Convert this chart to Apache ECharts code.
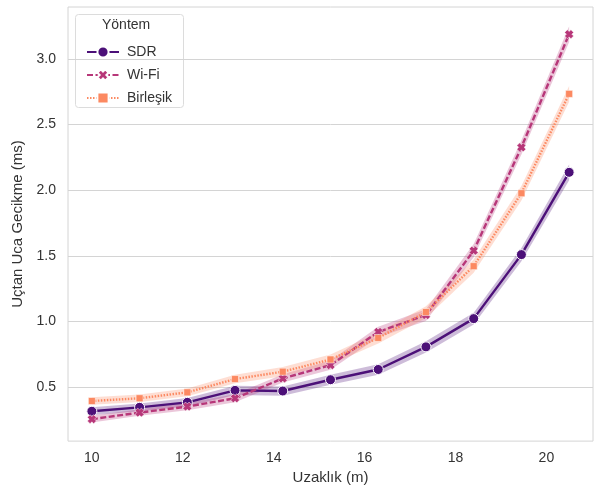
<!DOCTYPE html>
<html>
<head>
<meta charset="utf-8">
<script src="https://cdn.jsdelivr.net/npm/echarts@6/dist/echarts.min.js"></script>
<style>
  html, body { margin: 0; padding: 0; background: #fff; }
  #chart { width: 597px; height: 490px; }
</style>
</head>
<body>
<div id="chart"></div>
<script>
// Distance (m) at which each latency was measured
const distance = [10, 11.05, 12.1, 13.15, 14.2, 15.25, 16.3, 17.35, 18.4, 19.45, 20.5];

// Mean end-to-end latency (ms) per method
const sdr      = [0.318, 0.348, 0.386, 0.477, 0.472, 0.558, 0.636, 0.808, 1.023, 1.510, 2.136];
const wifi     = [0.258, 0.308, 0.354, 0.417, 0.568, 0.669, 0.922, 1.050, 1.540, 2.326, 3.187];
const combined = [0.396, 0.417, 0.462, 0.563, 0.619, 0.712, 0.876, 1.073, 1.422, 1.977, 2.733];

// Half-width of the confidence band (ms) per method
const sdrCi      = [0.030, 0.030, 0.032, 0.035, 0.035, 0.038, 0.040, 0.042, 0.045, 0.050, 0.060];
const wifiCi     = [0.025, 0.025, 0.028, 0.030, 0.032, 0.035, 0.040, 0.045, 0.050, 0.055, 0.060];
const combinedCi = [0.028, 0.028, 0.030, 0.032, 0.035, 0.038, 0.042, 0.045, 0.050, 0.055, 0.060];

// Axis tick labels
const xTicks = [10, 12, 14, 16, 18, 20];
const yTicks = [0.5, 1.0, 1.5, 2.0, 2.5, 3.0];

const names = ['SDR', 'Wi-Fi', 'Birleşik'];
const colors = ['#4c1078', '#b73779', '#fc8961'];
const FONT = 'Liberation Sans, Arial, sans-serif';
const xMarker = 'path://M0,3 L3,0 L5,2 L7,0 L10,3 L8,5 L10,7 L7,10 L5,8 L3,10 L0,7 L2,5 Z';

function pairs(ys) { return distance.map((x, i) => [x, ys[i]]); }

// Confidence band: one polygon through upper edge then lower edge, placed via the axes
function band(ys, ci, color) {
  const rows = distance.map((x, i) => [x, ys[i] - ci[i], ys[i] + ci[i]]);
  return {
    type: 'custom', silent: true, z: 1,
    encode: { x: 0, y: [1, 2] },
    data: rows,
    renderItem: function (params, api) {
      if (params.dataIndex !== 0) return null;
      const upper = rows.map(r => api.coord([r[0], r[2]]));
      const lower = rows.map(r => api.coord([r[0], r[1]])).reverse();
      return {
        type: 'polygon',
        shape: { points: upper.concat(lower) },
        style: { fill: color, opacity: 0.28 }
      };
    }
  };
}

const chart = echarts.init(document.getElementById('chart'), null, { renderer: 'canvas' });

chart.setOption({
  animation: false,
  backgroundColor: '#ffffff',
  grid: { left: 68, right: 4, top: 7, bottom: 47, show: true, borderColor: '#d4d4d4', borderWidth: 1 },
  xAxis: {
    type: 'value', min: 9.475, max: 21.025,
    name: 'Uzaklık (m)', nameLocation: 'middle', nameGap: 28,
    nameTextStyle: { fontFamily: FONT, fontSize: 15, color: '#333' },
    axisLine: { show: false }, axisTick: { show: false, customValues: xTicks },
    axisLabel: { customValues: xTicks, fontFamily: FONT, fontSize: 14, color: '#333', margin: 10 },
    splitLine: { show: false }
  },
  yAxis: {
    type: 'value', min: 0.091, max: 3.394,
    name: 'Uçtan Uca Gecikme (ms)', nameLocation: 'middle', nameGap: 40,
    nameTextStyle: { fontFamily: FONT, fontSize: 15, color: '#333' },
    axisLine: { show: false }, axisTick: { show: false, customValues: yTicks },
    axisLabel: { customValues: yTicks, fontFamily: FONT, fontSize: 14, color: '#333', margin: 12,
      formatter: v => v.toFixed(1) },
    splitLine: { show: true, lineStyle: { color: '#d4d4d4', width: 1 } }
  },
  legend: {
    data: names, orient: 'vertical', left: 81, top: 40,
    itemWidth: 32, itemHeight: 14, itemGap: 9,
    textStyle: { fontFamily: FONT, fontSize: 14, color: '#333', padding: [0, 0, 0, 3] }
  },
  graphic: [
    { type: 'rect', left: 75, top: 14, z: 0,
      shape: { width: 108, height: 93, r: 3 },
      style: { fill: 'rgba(255,255,255,0.8)', stroke: '#dcdcdc', lineWidth: 1 } },
    { type: 'text', left: 102, top: 18, z: 10,
      style: { text: 'Yöntem', font: '14px ' + FONT, fill: '#333' } }
  ],
  series: [
    band(sdr, sdrCi, colors[0]),
    band(wifi, wifiCi, colors[1]),
    band(combined, combinedCi, colors[2]),
    { type: 'line', name: names[0], data: pairs(sdr), z: 5,
      symbol: 'circle', symbolSize: 10,
      itemStyle: { color: colors[0], borderColor: '#fff', borderWidth: 1 },
      lineStyle: { color: colors[0], width: 2.4, type: 'solid' } },
    { type: 'line', name: names[1], data: pairs(wifi), z: 6,
      symbol: xMarker, symbolSize: 9,
      itemStyle: { color: colors[1], borderColor: '#fff', borderWidth: 0.5 },
      lineStyle: { color: colors[1], width: 2.4, type: [6, 2.5] } },
    { type: 'line', name: names[2], data: pairs(combined), z: 7,
      symbol: 'rect', symbolSize: 7,
      itemStyle: { color: colors[2], borderColor: '#fff', borderWidth: 0.5 },
      lineStyle: { color: colors[2], width: 2.4, type: [1.5, 1.5] } }
  ]
});
</script>
</body>
</html>
